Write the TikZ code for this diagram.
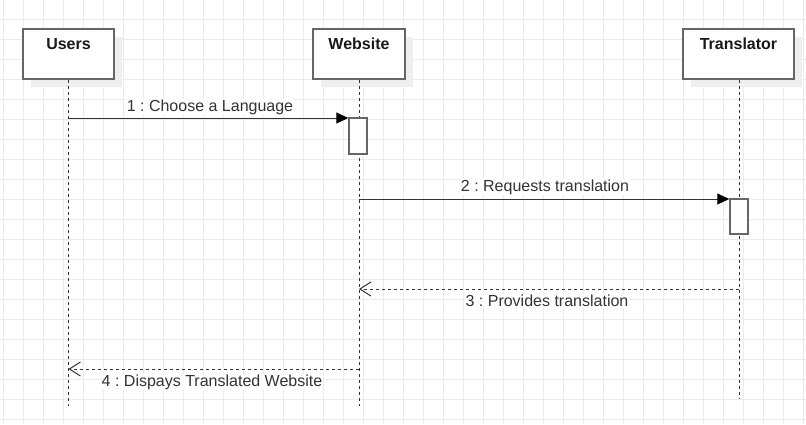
\documentclass[tikz,border=0pt]{standalone}
\usepackage{fontspec}
\setmainfont{Liberation Sans}
\usetikzlibrary{arrows.meta}
\frenchspacing
\definecolor{gridc}{HTML}{EBEBEB}
\definecolor{boxc}{HTML}{666666}
\definecolor{linec}{HTML}{333333}
\definecolor{txtc}{HTML}{333333}
\definecolor{shadowc}{HTML}{EFEFEF}
\tikzset{
  x=1pt, y=-1pt,
  head/.style={draw=boxc, line width=1.5pt, fill=white, minimum height=50pt, inner sep=0pt},
  headtxt/.style={font=\fontsize{16}{19}\selectfont\bfseries, text=black!90},
  actbox/.style={draw=boxc, line width=1.5pt, fill=white},
  lifeline/.style={draw=linec, line width=1pt, dash pattern=on 3pt off 3pt},
  callmsg/.style={draw=linec, line width=1pt, -{Triangle[length=12pt,width=11pt,color=black]}},
  retmsg/.style={draw=linec, line width=1pt, dash pattern=on 3pt off 3pt, -{Straight Barb[length=11pt,width=14pt,line width=1pt]}},
  msglbl/.style={font=\fontsize{16}{19}\selectfont, text=txtc, fill=white, inner sep=1pt}
}
\begin{document}
\begin{tikzpicture}
\useasboundingbox (0,0) rectangle (806,424);
\fill[white] (0,0) rectangle (806,424);
% grid
\foreach \gx in {3,23,...,803} \draw[gridc, line width=1pt] (\gx,0) -- (\gx,424);
\foreach \gy in {19,39,...,419} \draw[gridc, line width=1pt] (0,\gy) -- (806,\gy);
% shadows
\fill[shadowc] (31,37) rectangle (122,87);
\fill[shadowc] (321,37) rectangle (413,87);
\fill[shadowc] (691,37) rectangle (802,87);
% headers
\node[head, minimum width=91pt] (users) at (68.5,54) {};
\node[head, minimum width=92pt] (web) at (359,54) {};
\node[head, minimum width=111pt] (trans) at (738.5,54) {};
\node[headtxt] (usersT) at (68.5,44) {Users};
\node[headtxt] (webT) at (359,44) {Website};
\node[headtxt] (transT) at (738.5,44) {Translator};
% lifeline ends
\coordinate (uEnd) at (68.5,406);
\coordinate (wEnd) at (359,406);
\coordinate (tEnd) at (739,398);
\draw[lifeline] (users.south) -- (uEnd);
\draw[lifeline] (web.south) -- (wEnd);
\draw[lifeline] (trans.south -| tEnd) -- (tEnd);
% activations
\node[actbox, minimum width=18pt, minimum height=36pt, inner sep=0pt] (actW) at (358,136) {};
\node[actbox, minimum width=18pt, minimum height=35pt, inner sep=0pt] (actT) at (739,216.5) {};
% message anchors
\coordinate (m1s) at (68.5,118);
\coordinate (m2s) at (359,199);
\coordinate (m3s) at (739,289);
\coordinate (m3e) at (359,289);
\coordinate (m4s) at (359,369);
\coordinate (m4e) at (68.5,369);
\draw[callmsg] (m1s) -- (m1s -| actW.west);
\draw[callmsg] (m2s) -- (m2s -| actT.west);
\draw[retmsg] (m3s) -- (m3e);
\draw[retmsg] (m4s) -- (m4e);
% labels
\node[msglbl] (l1) at (210,107) {1 : Choose a Language};
\node[msglbl] (l2) at (545,187) {2 : Requests translation};
\node[msglbl] (l3) at (547,301) {3 : Provides translation};
\node[msglbl] (l4) at (212,382) {4 : Dispays Translated Website};
\end{tikzpicture}
\end{document}
